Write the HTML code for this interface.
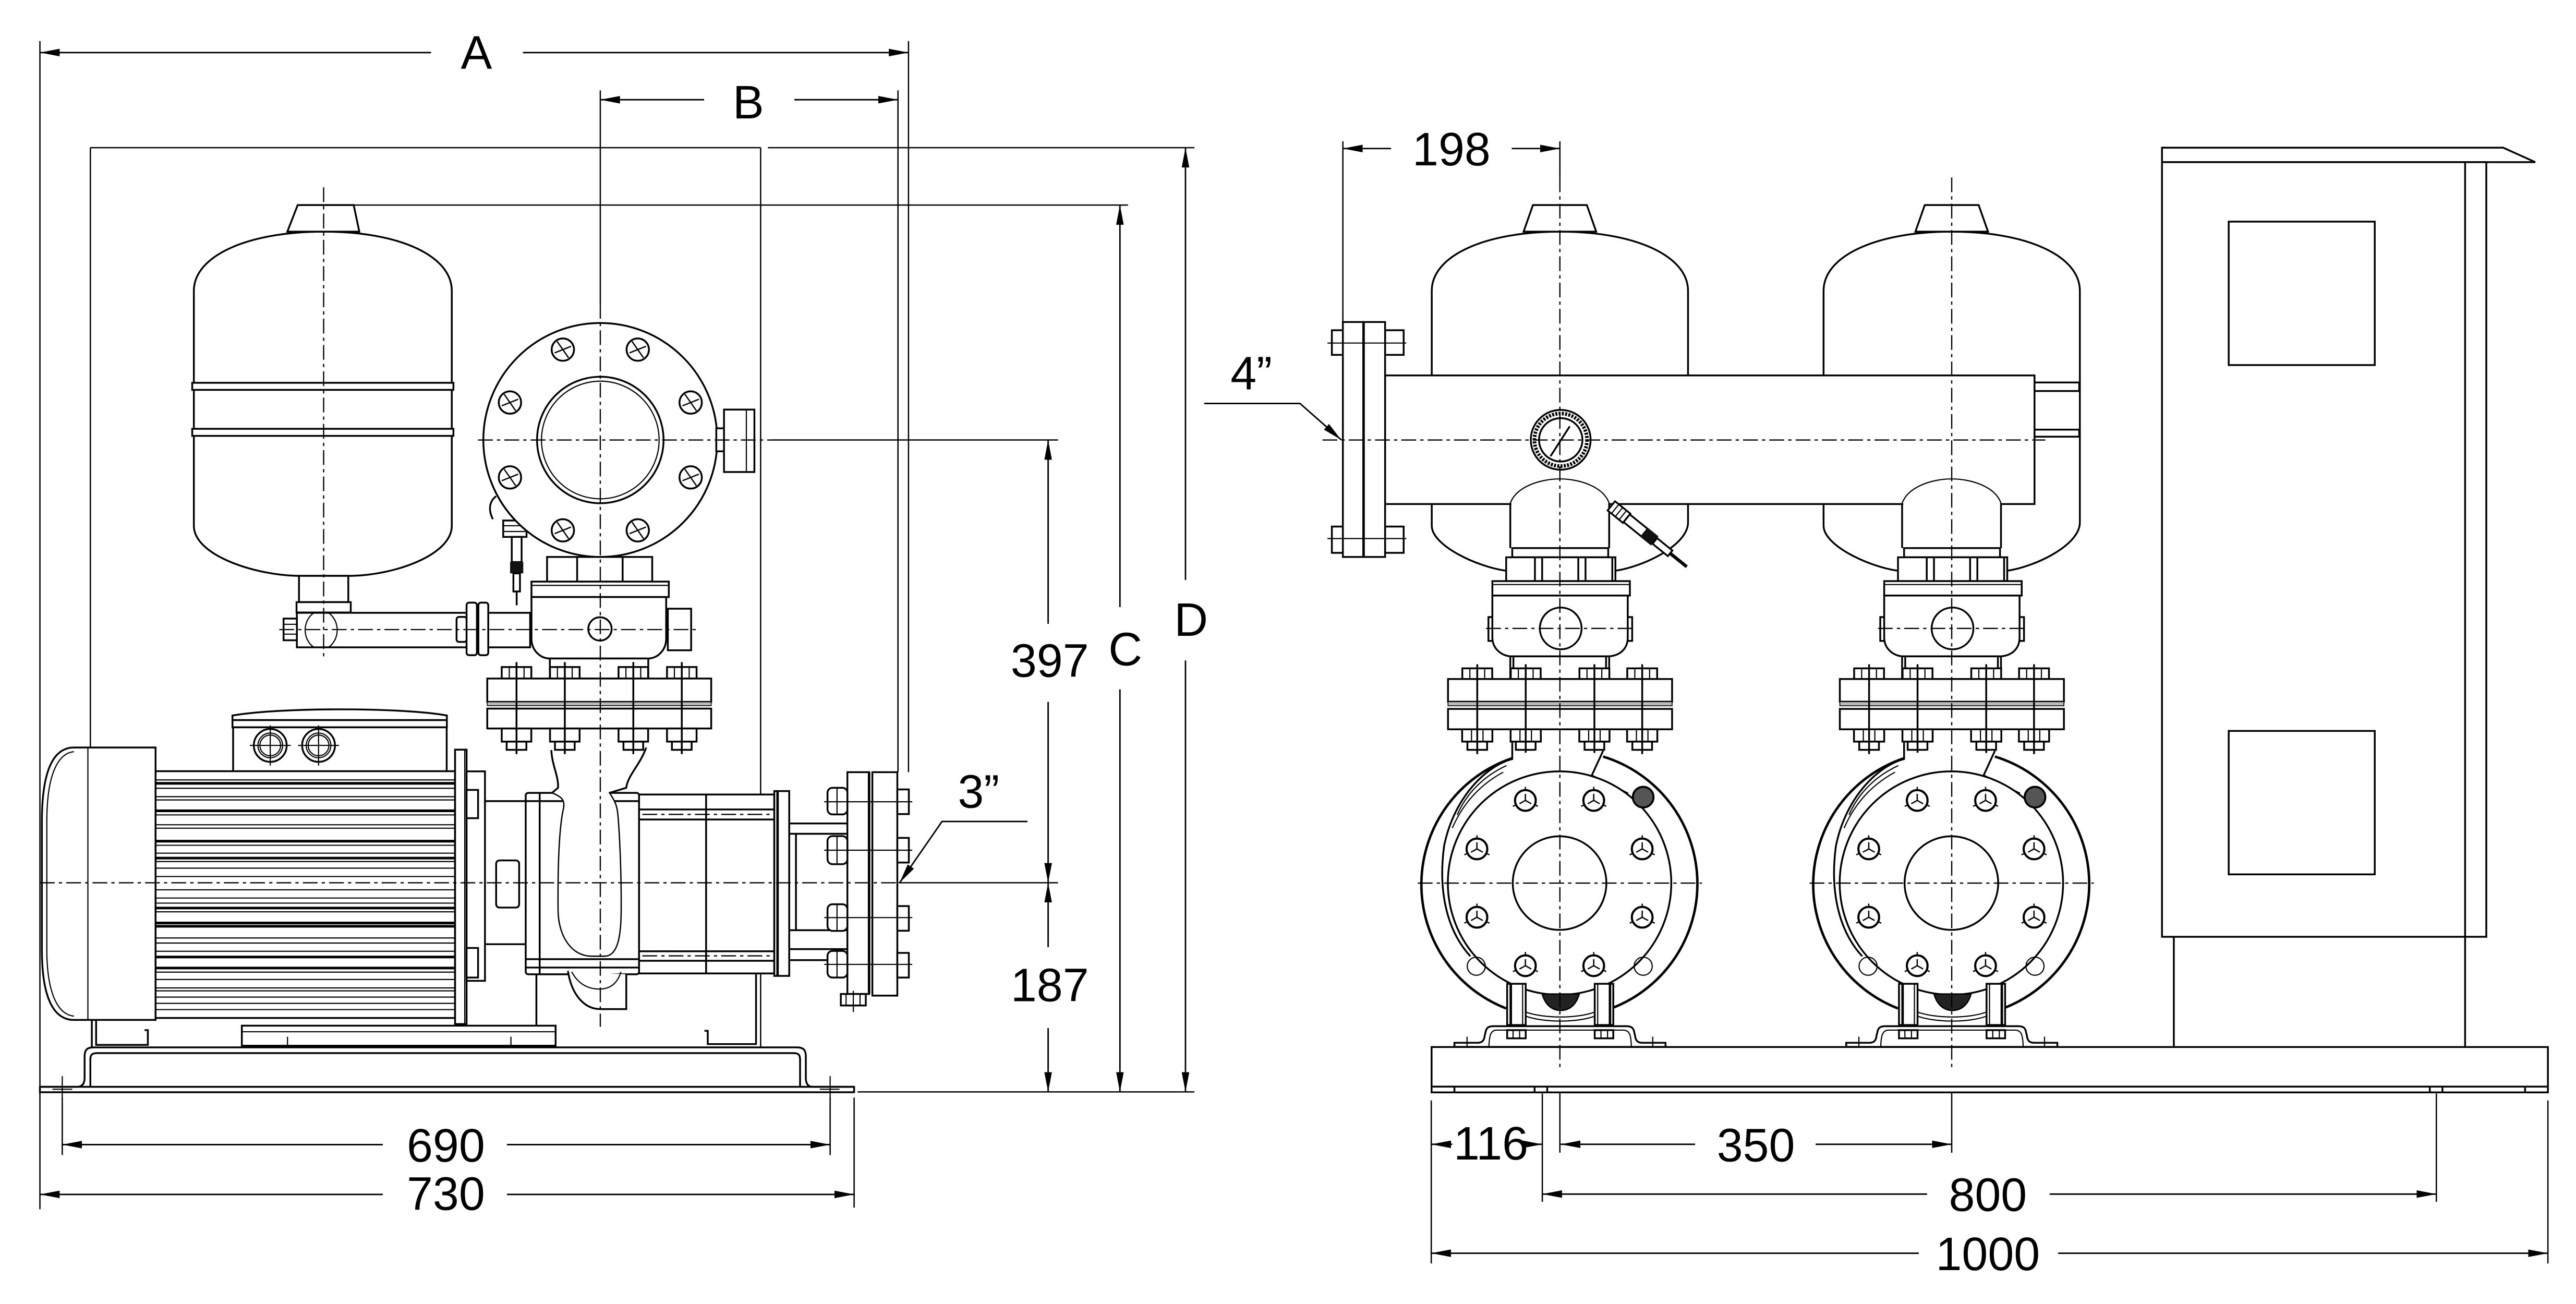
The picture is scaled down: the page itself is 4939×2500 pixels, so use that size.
<!DOCTYPE html>
<html><head><meta charset="utf-8">
<style>
html,body{margin:0;padding:0;background:#fff}
svg{display:block}
.o{fill:none;stroke:#000;stroke-width:1.1}
.w{fill:#fff;stroke:#000;stroke-width:1.1}
.t{fill:none;stroke:#000;stroke-width:0.7}
.k{fill:none;stroke:#000;stroke-width:1.5}
.c{fill:none;stroke:#000;stroke-width:0.75;stroke-dasharray:9 2.5 2 2.5}
.d{fill:none;stroke:#000;stroke-width:0.9}
.e{fill:none;stroke:#000;stroke-width:0.8}
text{font-family:"Liberation Sans",Arial,sans-serif;font-size:28.5px;fill:#000}
</style></head>
<body>
<svg xmlns="http://www.w3.org/2000/svg" width="4939" height="2500" viewBox="0 0 1568 793.7" preserveAspectRatio="none">
<defs>
<marker id="ar" viewBox="0 0 12 5" refX="12" refY="2.5" markerWidth="12" markerHeight="5" markerUnits="userSpaceOnUse" orient="auto-start-reverse"><path d="M0,0.2 L12,2.5 L0,4.8 Z" fill="#000"/></marker>
<g id="bl"><circle r="6.8" fill="#fff" stroke="#000" stroke-width="1.1"/><path d="M-3.5,-5 L3.5,5 M-5,2 L5,-2" stroke="#000" stroke-width="0.8" fill="none"/></g>
<g id="br"><circle r="6.3" fill="#fff" stroke="#000" stroke-width="1.3"/><path d="M0,0 L0,-4 M0,0 L3.6,2 M0,0 L-3.6,2 M0,-6.3 L0,-8.3 M5.6,2.6 L7.6,3.6 M-5.6,2.6 L-7.6,3.6" stroke="#000" stroke-width="0.8" fill="none"/></g>

<!-- right-view pump assembly (pump 1 absolute coords) -->
<g id="pr">
 <!-- riser -->
 <rect x="920" y="305" width="59" height="28.6" fill="#fff"/>
 <path class="t" d="M919.3,306.3 C923,296 938,291.5 949.5,291.5 C961,291.5 976,296 979.5,306.3"/>
 <path class="o" d="M919.3,306.3 L919.3,333.6 M979.5,306.3 L979.5,333.6"/>
 <rect class="w" x="920.5" y="333.6" width="58.4" height="5.6"/>
 <rect class="w" x="916.8" y="339.2" width="66.5" height="14.5"/>
 <path class="o" d="M934.3,339.2 V353.7 M938.7,339.2 V353.7 M960.7,339.2 V353.7 M965.1,339.2 V353.7 M981.4,339.2 V353.7"/>
 <rect class="w" x="908.4" y="353.7" width="83.7" height="8.8"/>
 <path class="t" d="M908.4,355.8 H992.1"/>
 <rect class="w" x="906" y="375.6" width="3" height="14.5"/>
 <rect class="w" x="990.5" y="375.6" width="3" height="14.5"/>
 <path class="w" d="M908.4,362.5 L908.4,388 C908.4,395 914,399 919.3,399.5 L979.5,399.5 C986,399 990.8,395 990.8,388 L990.8,362.5 Z"/>
 <circle class="o" cx="950" cy="382.5" r="12.7"/>
 <rect class="w" x="919.3" y="399.5" width="60.2" height="13.8"/>
 <path class="o" d="M921.2,399.5 V413.3 M977.6,399.5 V413.3"/>
 <!-- top nuts -->
 <rect class="w" x="890.1" y="406.8" width="18.2" height="6.5"/>
 <rect class="w" x="919.6" y="406.8" width="18.2" height="6.5"/>
 <rect class="w" x="961.4" y="406.8" width="18.2" height="6.5"/>
 <rect class="w" x="990.5" y="406.8" width="18.2" height="6.5"/>
 <path class="t" d="M894.7,406.8V413.3 M903.7,406.8V413.3 M924.2,406.8V413.3 M933.2,406.8V413.3 M966,406.8V413.3 M975,406.8V413.3 M995.1,406.8V413.3 M1004.1,406.8V413.3"/>
 <!-- flanges -->
 <rect class="w" x="881.4" y="413.3" width="136.4" height="13.8"/>
 <rect x="881.4" y="427.1" width="136.4" height="2.5" fill="#bbb" stroke="#000" stroke-width="0.5"/>
 <rect class="w" x="881.4" y="431.5" width="136.4" height="12.4" stroke-width="1.4"/>
 <!-- bottom nuts -->
 <rect class="w" x="890" y="443.9" width="18.4" height="7.5"/><rect class="w" x="893.2" y="451.4" width="12" height="5"/>
 <rect class="w" x="919.5" y="443.9" width="18.4" height="7.5"/><rect class="w" x="922.7" y="451.4" width="12" height="5"/>
 <rect class="w" x="961.3" y="443.9" width="18.4" height="7.5"/><rect class="w" x="964.5" y="451.4" width="12" height="5"/>
 <rect class="w" x="990.4" y="443.9" width="18.4" height="7.5"/><rect class="w" x="993.6" y="451.4" width="12" height="5"/>
 <path class="t" d="M895.7,443.9V451.4 M902.7,443.9V451.4 M925.2,443.9V451.4 M932.2,443.9V451.4 M967,443.9V451.4 M974,443.9V451.4 M996.1,443.9V451.4 M1003.1,443.9V451.4"/>
 <path class="o" d="M899.2,404.3V459 M928.7,404.3V459 M970.5,404.3V459 M999.6,404.3V459"/>
 <!-- volute -->
 <circle cx="949.4" cy="537.5" r="82" fill="#fff"/>
 <path class="k" d="M920.5,461.5 A81,81 0 0 0 916.8,613.8"/>
 <path class="k" d="M975.8,460.5 A81,81 0 0 1 982,613.3"/>
 <path class="o" d="M920.5,452 L920.5,462 C905,466 885,485 879,515 C875,545 882,568 895,582"/>
 <path class="t" d="M917,466 C904,472 893,482 887,496 M915,470 C902,477 891,488 884,504"/>
 <path class="o" d="M975.8,457 L968.9,472 L991,483"/>
 <circle class="w" cx="949.3" cy="537.5" r="68" stroke-width="1.3"/>
 <circle class="o" cx="949.3" cy="537.5" r="28.5"/>
 <circle cx="1000.2" cy="485.2" r="6.3" fill="#555" stroke="#000" stroke-width="1.2"/>
 <circle class="t" cx="898.6" cy="588.1" r="5.5"/>
 <circle class="t" cx="1000.2" cy="588.1" r="5.5"/>
 <use href="#br" x="928.5" y="487.2"/><use href="#br" x="970.1" y="487.2"/>
 <use href="#br" x="899" y="516.7"/><use href="#br" x="999.6" y="516.7"/>
 <use href="#br" x="899" y="558.3"/><use href="#br" x="999.6" y="558.3"/>
 <use href="#br" x="928.5" y="587.8"/><use href="#br" x="970.1" y="587.8"/>
 <!-- legs -->
 <rect class="w" x="917.4" y="598.8" width="11.3" height="25.1"/>
 <rect class="w" x="970.7" y="598.8" width="11.3" height="25.1"/>
 <path class="k" d="M919.6,598.8V623.9 M980,598.8V623.9"/>
 <path class="t" d="M926.8,598.8V623.9 M972.5,598.8V623.9"/>
 <path d="M938.7,605 C941,613 946,615 950,615 C954,615 959,613 961.3,605 Z" fill="#222" stroke="#000" stroke-width="0.8"/>
 <path class="t" d="M928.7,616 C940,620 960,620 970.7,616 M928.7,618.5 C940,622.5 960,622.5 970.7,618.5"/>
 <!-- bracket -->
 <path class="w" d="M885.3,637.2 L885.3,634.7 L899.5,634.7 C902.5,634.7 903.5,633 903.8,630 L904.2,628.5 C904.6,625.6 906,624.6 909,624.6 L990,624.6 C993,624.6 994.4,625.6 994.8,628.5 L995.2,630 C995.5,633 996.5,634.7 999.5,634.7 L1013.8,634.7 L1013.8,637.2 Z"/>
 <path class="t" d="M906.3,637.2 C906.5,630 907.5,627 911,627 L988,627 C992,627 992.8,630 993,637.2"/>
 <rect class="w" x="917.4" y="627" width="11.3" height="5"/>
 <rect class="w" x="970.7" y="627" width="11.3" height="5"/>
 <path class="t" d="M921,627V632 M925,627V632 M974.5,627V632 M978.5,627V632 M893,631V641 M1006,631V641 M889,634.7H897 M1002,634.7H1010"/>
</g>
</defs>

<!-- ================= LEFT VIEW ================= -->
<!-- extension lines -->
<path class="e" d="M24.3,25V736 M553,25V470 M365.4,55V185 M546.6,55V470 M55,89.9H463 M467.4,89.9H727 M55,89.9V455 M463,89.9V637.5 M215.3,124.8H686.6 M470,267.8H644 M547,537.3H644 M522,664.6H727 M37.9,668V703 M505.3,668V703 M519.9,668V735"/>

<!-- tank -->
<path class="w" d="M118,320 L118,177 C118,156 150,141 197,141 C244,141 275,156 275,177 L275,320 C275,338 240,350 214,350.5 L181,350.5 C155,350 118,338 118,320 Z"/>
<path class="w" d="M181.2,124.8 L215.3,124.8 L218.7,141 L174.9,141 Z"/>
<rect class="w" x="117" y="233" width="159" height="4.3"/>
<rect class="w" x="117" y="261" width="159" height="4.3"/>
<rect class="w" x="182" y="350.5" width="30" height="16"/>
<rect class="w" x="180.5" y="366.5" width="33" height="6.3"/>
<!-- pipe -->
<rect class="w" x="180.7" y="373" width="142" height="21"/>
<path class="t" d="M191,373 C184,378 184,389 191,394 M200,373 C207,378 207,389 200,394"/>
<rect class="w" x="172.6" y="376.5" width="8.1" height="13.2"/>
<path class="t" d="M172.6,380H180.7 M172.6,386H180.7"/>
<rect class="w" x="277.9" y="375.5" width="6.2" height="15.2" rx="1.5"/>
<rect class="w" x="284" y="366.8" width="6.3" height="32" rx="1.5"/>
<rect class="w" x="291.2" y="366.8" width="6" height="32" rx="1.5"/>
<!-- pressure switch -->
<path class="o" d="M300,316 C297,310 298,305 302,302"/>
<rect class="w" x="306.3" y="316.8" width="14.2" height="10"/>
<path class="t" d="M306.3,320H320.5 M306.3,323.5H320.5"/>
<rect class="w" x="311.5" y="326.8" width="6" height="15.3"/>
<rect x="310.5" y="342" width="8" height="7" fill="#111"/>
<rect class="w" x="312.5" y="349" width="4" height="11"/>
<path class="o" d="M314.5,360V368.4" stroke-width="1.4"/>
<!-- big flange -->
<circle class="w" cx="365.4" cy="267.8" r="71.2"/>
<circle class="o" cx="365.4" cy="267.8" r="38.5"/>
<circle class="t" cx="365.4" cy="267.8" r="35.8"/>
<use href="#bl" x="342.6" y="212.8"/><use href="#bl" x="388.2" y="212.8"/>
<use href="#bl" x="310.4" y="245"/><use href="#bl" x="420.4" y="245"/>
<use href="#bl" x="310.4" y="290.6"/><use href="#bl" x="420.4" y="290.6"/>
<use href="#bl" x="342.6" y="322.8"/><use href="#bl" x="388.2" y="322.8"/>
<rect class="w" x="436" y="260.7" width="5" height="14"/>
<rect class="w" x="440.7" y="249.3" width="18.5" height="38"/>
<path class="t" d="M454.3,249.3V287.3"/>
<!-- check valve -->
<rect class="w" x="333" y="339" width="64" height="15"/>
<path class="o" d="M351.3,339V354 M379,339V354"/>
<rect class="w" x="323.5" y="354" width="83.6" height="9.4"/>
<path class="t" d="M323.5,356.3H407.1"/>
<path class="w" d="M323.5,363.4 L323.5,388.7 C323.5,396 329,400.8 334.7,400.8 L394.6,400.8 C400,400.8 405.5,396 405.5,388.7 L405.5,363.4 Z"/>
<rect class="w" x="406.5" y="370.5" width="14.2" height="25.3"/>
<circle class="o" cx="365.2" cy="382.8" r="7.1"/>
<rect class="w" x="334.7" y="400.8" width="59.9" height="12.2"/>
<!-- discharge flange pair -->
<rect class="w" x="305.4" y="406" width="18" height="7"/><rect class="w" x="334.8" y="406" width="18" height="7"/>
<rect class="w" x="376.5" y="406" width="18" height="7"/><rect class="w" x="406" y="406" width="18" height="7"/>
<path class="t" d="M310,406V413 M319,406V413 M339.3,406V413 M348.3,406V413 M381,406V413 M390,406V413 M410.5,406V413 M419.5,406V413"/>
<rect class="w" x="296.6" y="413" width="136.3" height="14.2"/>
<rect x="296.6" y="427.2" width="136.3" height="2.3" fill="#bbb" stroke="#000" stroke-width="0.5"/>
<rect class="w" x="296.6" y="431.3" width="136.3" height="12.1" stroke-width="1.4"/>
<rect class="w" x="305.4" y="443.4" width="18" height="8"/><rect class="w" x="308.4" y="451.4" width="12" height="5"/>
<rect class="w" x="334.8" y="443.4" width="18" height="8"/><rect class="w" x="337.8" y="451.4" width="12" height="5"/>
<rect class="w" x="376.5" y="443.4" width="18" height="8"/><rect class="w" x="379.5" y="451.4" width="12" height="5"/>
<rect class="w" x="406" y="443.4" width="18" height="8"/><rect class="w" x="409" y="451.4" width="12" height="5"/>
<path class="o" d="M314.4,403V459 M343.8,403V459 M385.5,403V459 M415,403V459"/>
<!-- motor -->
<path class="w" d="M94.7,455 L45,455 C32,455 25.5,470 25.5,500 L25.5,578 C25.5,606 32,620.8 45,620.8 L94.7,620.8 Z"/>
<path class="t" d="M53.5,455V620.8 M45,457.5 C35,458.5 28.5,472 28.5,500 L28.5,578 C28.5,604 35,617.5 45,618.5"/>
<path class="w" d="M141.5,438.3 L141.5,435.5 C170,430.5 245,430.5 272,435.5 L272,438.3 Z"/>
<rect class="w" x="141.5" y="438.3" width="130.5" height="4.4"/>
<rect class="w" x="141.9" y="442.7" width="130" height="27"/>
<circle class="o" cx="164.5" cy="453.7" r="10" stroke-width="1.3"/><circle class="t" cx="164.5" cy="453.7" r="7.5"/><circle class="t" cx="164.5" cy="453.7" r="6.3"/>
<circle class="o" cx="193.9" cy="453.7" r="10" stroke-width="1.3"/><circle class="t" cx="193.9" cy="453.7" r="7.5"/><circle class="t" cx="193.9" cy="453.7" r="6.3"/>
<path class="t" d="M152,453.7H177 M164.5,441.5V466 M181.4,453.7H206.4 M193.9,441.5V466"/>
<rect class="w" x="94.7" y="469.4" width="182.3" height="150.2"/>
<g stroke="#000" fill="none">
<path stroke-width="0.7" d="M94.7,474.7H277 M94.7,479.8H277 M94.7,484.9H277 M94.7,486.9H277 M94.7,496H277 M94.7,502H277 M94.7,504.1H277 M94.7,514.5H277 M94.7,519.3H277 M94.7,524.4H277 M94.7,528.4H277 M94.7,533.5H277 M94.7,541.6H277 M94.7,546.6H277 M94.7,549.7H277 M94.7,555H277 M94.7,570.9H277 M94.7,574H277 M94.7,579H277 M94.7,591.7H277 M94.7,596.2H277 M94.7,601.3H277 M94.7,603.1H277 M94.7,606.9H277 M94.7,610.7H277 M94.7,614.5H277"/>
<path stroke-width="1.6" d="M94.7,476.8H277 M94.7,493.5H277 M94.7,512H277 M94.7,522.3H277 M94.7,552.7H277 M94.7,561.8H277 M94.7,563.8H277 M94.7,582.5H277 M94.7,589.2H277"/>
</g>
<rect class="w" x="277" y="456.3" width="7" height="167"/>
<path class="t" d="M282.9,456.3V623.3"/>
<rect class="w" x="284" y="469.5" width="11.2" height="127.5"/>
<rect class="w" x="284" y="480.8" width="7" height="17.2"/>
<rect class="w" x="284" y="577" width="7" height="18"/>
<path class="o" d="M295.2,487.6H320 M295.2,574.7H320"/>
<rect class="o" x="302" y="523.7" width="14" height="28.7" rx="2"/>
<!-- pump casing -->
<rect class="w" x="320" y="482.6" width="69" height="110.4" rx="1.5"/>
<path class="o" d="M328.5,482.6V593 M320,487.6H389 M320,583.8H389 M320,588.9H389"/>
<rect x="337" y="480" width="33.5" height="4" fill="#fff"/>
<path d="M336,482.6 C342,485 344,487 343,492 C340,505 339.5,530 339.7,554.5 C340,570 348,582 360,582 L368,582 C376,582 378,570 378.1,554.5 C378.3,530 377,505 376,495 C375.5,490 374,487 371,482.6" fill="#fff" stroke="#000" stroke-width="0.8"/>
<path class="o" d="M335.6,456.5 C336,466 340,472 339.7,479.5 L336,482.6"/>
<path class="o" d="M393.3,455 C390,465 382,472 381.2,479.5 L371,482.6"/>
<path class="w" d="M345.7,591 C348,606 356,614 365,614.2 L381.2,614.2 L381.2,593"/>
<path class="t" d="M348,591.5 C352,599 358,602 365,602 C372,602 376,598 378,591.5"/>
<path class="o" d="M326.5,593V624.3"/>
<!-- stage casing & outlet -->
<rect class="w" x="389" y="483.6" width="82.3" height="108.9"/>
<path class="o" d="M429.8,483.6V592.5 M389,492.7H471.3 M389,498.8H471.3 M389,579H471.3 M389,584.8H471.3"/>
<path class="c" d="M391,495.7H471 M391,581.8H471"/>
<rect class="w" x="471.3" y="481.5" width="9.1" height="112.5"/>
<path class="k" d="M473.3,481.5V594" stroke-width="2"/>
<rect class="w" x="480.4" y="501.2" width="35.4" height="83.2"/>
<path class="o" d="M480.4,507.5H515.8 M480.4,566.2H515.8 M480.4,577.7H515.8 M484.5,507.5V566.2"/>
<rect class="w" x="515.8" y="470" width="13.2" height="135"/>
<rect class="w" x="531" y="470" width="15.2" height="136"/>
<path class="k" d="M529,470V605"/>
<rect class="w" x="503.7" y="479.5" width="12.1" height="16.2" rx="3"/>
<rect class="w" x="503.7" y="508.9" width="12.1" height="17.1" rx="3"/>
<rect class="w" x="503.7" y="550.4" width="12.1" height="16.2" rx="3"/>
<rect class="w" x="503.7" y="578.8" width="12.1" height="16.2" rx="3"/>
<path class="t" d="M509.5,479.5V495.7 M509.5,508.9V526 M509.5,550.4V566.6 M509.5,578.8V595"/>
<rect class="w" x="546.2" y="480.5" width="7" height="15"/>
<rect class="w" x="546.2" y="510" width="7" height="15"/>
<rect class="w" x="546.2" y="551.5" width="7" height="15"/>
<rect class="w" x="546.2" y="580" width="7" height="15"/>
<path class="t" d="M501.7,488H555.3 M501.7,517.5H555.3 M501.7,558.5H555.3 M501.7,587H555.3"/>
<rect class="w" x="511.8" y="605" width="15.2" height="7"/>
<path class="t" d="M519.4,603V616 M515,605V612 M523.5,605V612"/>
<!-- feet & base -->
<path class="o" d="M55.9,620.8V637.5 M58.5,620.8V636 H90 V627 H88"/>
<rect class="w" x="147.2" y="624.3" width="191" height="12.2"/>
<path class="t" d="M147.2,628H338.2 M175,631V640 M311,631V640"/>
<path class="o" d="M428.8,627.4 H430.8 V635.5 H460.2 V592.5"/>
<path class="w" d="M24.3,661.5 L47,661.5 C50.5,661.5 51.5,659 51.5,656 L51.5,643 C51.5,639 53,637.5 57,637.5 L485,637.5 C489,637.5 490.5,639 490.5,643 L490.5,656 C490.5,659 491.5,661.5 494.5,661.5 L519.9,661.5 L519.9,664.8 L24.3,664.8 Z"/>
<path class="o" d="M55,661.5 V645 C55,642 56,641 59,641 L483,641 C486,641 487,642 487,645 V661.5 M24.3,661.5H519.9"/>
<path class="t" d="M37.9,655V670 M505.3,655V670 M32,663H44 M499,663H511"/>

<!-- left view centerlines -->
<path class="c" d="M197,114V400 M365.4,185V625 M291,267.8H470 M170,383.2H425 M24.3,537.3H547"/>

<!-- left view dimensions -->
<g class="d">
<line x1="24.3" y1="32" x2="262.4" y2="32" marker-start="url(#ar)"/>
<line x1="318.3" y1="32" x2="553" y2="32" marker-end="url(#ar)"/>
<line x1="365.4" y1="60.7" x2="428.6" y2="60.7" marker-start="url(#ar)"/>
<line x1="483.5" y1="60.7" x2="546.6" y2="60.7" marker-end="url(#ar)"/>
<line x1="721.6" y1="89.9" x2="721.6" y2="353" marker-start="url(#ar)"/>
<line x1="721.6" y1="402" x2="721.6" y2="664.6" marker-end="url(#ar)"/>
<line x1="681.7" y1="124.8" x2="681.7" y2="369.5" marker-start="url(#ar)"/>
<line x1="681.7" y1="419.6" x2="681.7" y2="664.6" marker-end="url(#ar)"/>
<line x1="638" y1="267.8" x2="638" y2="379.7" marker-start="url(#ar)"/>
<line x1="638" y1="427.2" x2="638" y2="537.3" marker-end="url(#ar)"/>
<line x1="638" y1="537.3" x2="638" y2="576.5" marker-start="url(#ar)"/>
<line x1="638" y1="625.8" x2="638" y2="664.6" marker-end="url(#ar)"/>
<line x1="37.9" y1="696.7" x2="233" y2="696.7" marker-start="url(#ar)"/>
<line x1="308.6" y1="696.7" x2="505.3" y2="696.7" marker-end="url(#ar)"/>
<line x1="24.3" y1="727" x2="233" y2="727" marker-start="url(#ar)"/>
<line x1="308.6" y1="727" x2="519.9" y2="727" marker-end="url(#ar)"/>
<polyline points="625.4,500 573.4,500 547.6,537.3" marker-end="url(#ar)"/>
</g>
<text x="290" y="41.8" text-anchor="middle">A</text>
<text x="455.5" y="72" text-anchor="middle">B</text>
<text x="725" y="387" text-anchor="middle">D</text>
<text x="685" y="405" text-anchor="middle">C</text>
<text x="639" y="412" text-anchor="middle">397</text>
<text x="639" y="609.4" text-anchor="middle">187</text>
<text x="583" y="491.7">3”</text>
<text x="271.4" y="707" text-anchor="middle">690</text>
<text x="271.4" y="736.4" text-anchor="middle">730</text>

<!-- ================= RIGHT VIEW ================= -->
<path class="e" d="M817.4,86V196 M949.5,86V108 M871.2,669.8V769 M1550.9,669.8V769 M938.8,655V662 M938.8,665.6V731.5 M1483,655V662 M1483,665.6V731.5 M949.5,650V701.6 M1188,650V701.6"/>

<!-- control panel -->
<path class="w" d="M1316,89.9 L1523.7,89.9 L1543.2,98.7 L1316,98.7 Z"/>
<rect class="w" x="1316" y="98.7" width="197.4" height="471.5"/>
<path class="o" d="M1500.5,98.7V637.3 M1323.2,570.2V637.3"/>
<rect class="o" x="1356.6" y="134.9" width="88.9" height="87.3"/>
<rect class="o" x="1356.6" y="444.9" width="88.9" height="87.3"/>

<!-- tanks -->
<path class="w" d="M871.5,320 L871.5,177 C871.5,156 903,141 949.5,141 C996,141 1027.5,156 1027.5,177 L1027.5,318 C1027.5,332 1000,345 983.3,347.4 L916.8,347.4 C899,345 871.5,332 871.5,320 Z"/>
<path class="w" d="M933.1,124.8 L965.9,124.8 L971.6,141 L927.4,141 Z"/>
<path class="w" d="M1110,320 L1110,177 C1110,156 1141.5,141 1188,141 C1234.5,141 1266,156 1266,177 L1266,318 C1266,332 1238.5,345 1221.8,347.4 L1155.3,347.4 C1137.5,345 1110,332 1110,320 Z"/>
<path class="w" d="M1171.6,124.8 L1204.4,124.8 L1210.1,141 L1165.9,141 Z"/>

<!-- manifold -->
<rect class="w" x="843.1" y="228.5" width="395.3" height="78.3"/>
<rect class="w" x="1238.4" y="232.8" width="27.2" height="5.2"/>
<rect class="w" x="1238.4" y="261.5" width="27.2" height="4.3"/>

<!-- pumps -->
<use href="#pr"/>
<use href="#pr" transform="translate(238.5,0)"/>

<!-- gauge -->
<circle class="w" cx="950" cy="267.7" r="18.2"/>
<circle cx="950" cy="267.7" r="16" fill="none" stroke="#000" stroke-width="2.2" stroke-dasharray="1.2 0.8"/>
<circle class="o" cx="950" cy="267.7" r="13.2" stroke-width="1.4"/>
<path class="o" d="M943.8,277.7 L955.5,259.5" stroke-width="1.3"/>

<!-- sensor -->
<g transform="translate(980.8,307.9) rotate(38.9)">
<rect class="w" x="0" y="-3.6" width="12" height="7.2"/>
<path class="t" d="M3,-3.6V3.6 M6,-3.6V3.6 M9,-3.6V3.6"/>
<rect class="w" x="12" y="-3" width="14" height="6"/>
<rect x="26" y="-3.6" width="8" height="7.2" fill="#111"/>
<rect class="w" x="34" y="-2.2" width="12" height="4.4"/>
<path d="M46,0 H59" stroke="#000" stroke-width="2" fill="none"/>
</g>

<!-- manifold flange -->
<rect class="w" x="810.7" y="201" width="6.7" height="15"/>
<rect class="w" x="810.7" y="320.5" width="6.7" height="16"/>
<rect class="w" x="843.1" y="201" width="11.3" height="15"/>
<rect class="w" x="843.1" y="320.5" width="11.3" height="16"/>
<rect class="w" x="817.4" y="196" width="12.6" height="143"/>
<rect class="w" x="830" y="196" width="13.1" height="143"/>
<path class="k" d="M830,196V339" stroke-width="2.2"/>
<path class="t" d="M808,208.8H856 M808,327.8H856"/>

<!-- base skid -->
<rect class="w" x="871.4" y="637.3" width="679.5" height="27.6"/>
<path class="o" d="M871.4,661.4H1550.9"/>
<path class="o" d="M885.3,661.4V664.9 M934.1,661.4V664.9 M941.8,661.4V664.9 M1479,661.4V664.9 M1486.7,661.4V664.9 M1537,661.4V664.9"/>

<!-- right centerlines -->
<path class="c" d="M949.5,108V650 M1188,108V650 M805,267.8H1245 M904.6,382.5H994.6 M1143.1,382.5H1233.1 M863,537.5H1036 M1101.5,537.5H1274.5"/>

<!-- right dims -->
<g class="d">
<line x1="817.4" y1="90.4" x2="846.7" y2="90.4" marker-start="url(#ar)"/>
<line x1="920.2" y1="90.4" x2="949.5" y2="90.4" marker-end="url(#ar)"/>
<polyline points="733,245.6 791.3,245.6 816.4,267.7" marker-end="url(#ar)"/>
<line x1="871.2" y1="696.5" x2="884" y2="696.5" marker-start="url(#ar)"/>
<line x1="931" y1="696.5" x2="938.8" y2="696.5" marker-end="url(#ar)"/>
<line x1="950" y1="696.5" x2="1031.8" y2="696.5" marker-start="url(#ar)"/>
<line x1="1105.2" y1="696.5" x2="1188" y2="696.5" marker-end="url(#ar)"/>
<line x1="938.8" y1="726.8" x2="1173" y2="726.8" marker-start="url(#ar)"/>
<line x1="1247.6" y1="726.8" x2="1483" y2="726.8" marker-end="url(#ar)"/>
<line x1="871.2" y1="762.8" x2="1168" y2="762.8" marker-start="url(#ar)"/>
<line x1="1252.8" y1="762.8" x2="1550.9" y2="762.8" marker-end="url(#ar)"/>
</g>
<text x="883.5" y="100.7" text-anchor="middle">198</text>
<text x="749" y="237">4”</text>
<text x="907.5" y="705.8" text-anchor="middle">116</text>
<text x="1068.8" y="706.8" text-anchor="middle">350</text>
<text x="1210" y="737" text-anchor="middle">800</text>
<text x="1210" y="773" text-anchor="middle">1000</text>
</svg>
</body></html>
